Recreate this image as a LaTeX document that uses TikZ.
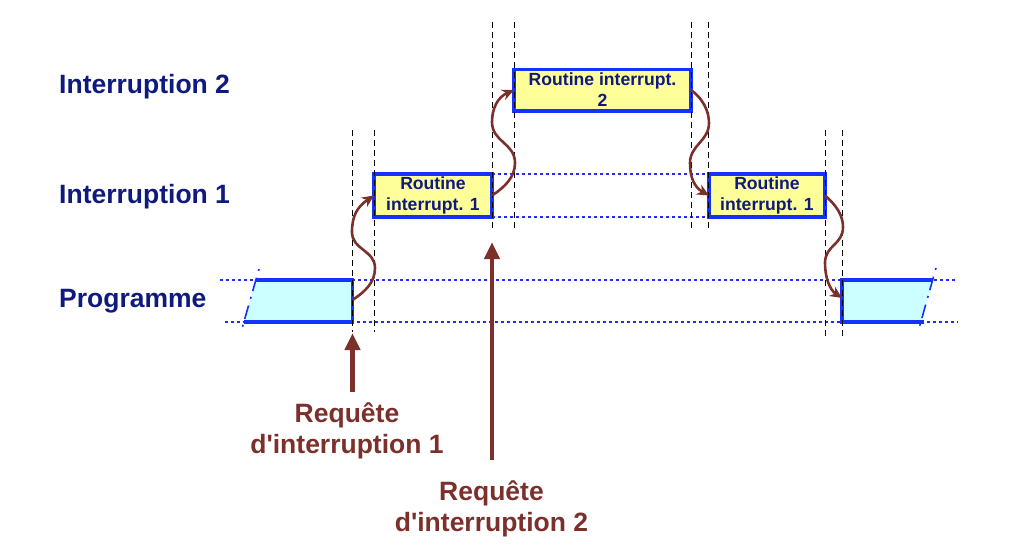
\documentclass[tikz,border=0pt]{standalone}
\usepackage{fontspec}
\setmainfont{Liberation Sans}
\usetikzlibrary{arrows.meta}
\definecolor{navytxt}{RGB}{14,26,125}
\definecolor{boxblue}{RGB}{20,50,255}
\definecolor{routfill}{RGB}{255,255,153}
\definecolor{progfill}{RGB}{204,255,255}
\definecolor{reqbrown}{RGB}{124,48,44}
\definecolor{laneblue}{RGB}{40,40,240}
\begin{document}
\begin{tikzpicture}[x=1pt,y=-1pt,
  lanelabel/.style={anchor=base west, inner sep=0, text=navytxt, font=\fontsize{26.5}{31}\selectfont\bfseries},
  routbox/.style={draw=boxblue, line width=3.5pt, fill=routfill, align=center, inner sep=0, outer sep=0, minimum height=42pt, text=navytxt, font=\fontsize{17.6}{21}\selectfont\bfseries},
  reqlabel/.style={align=center, inner sep=0, text=reqbrown, font=\fontsize{26.5}{31}\selectfont\bfseries},
  guide/.style={black, line width=0.9pt, dash pattern=on 6pt off 4pt},
  lanedot/.style={laneblue, line width=1.6pt, dash pattern=on 3pt off 3pt},
  cut/.style={boxblue, line width=1.6pt, dash pattern=on 2pt off 7pt on 14pt off 6pt},
  jump/.style={reqbrown, line width=2.6pt, -{Stealth[length=12pt,width=11pt]}},
  reqarrow/.style={reqbrown, line width=4.5pt, -{Triangle[length=17pt,width=15pt]}}]
	\useasboundingbox (0,0) rectangle (1034,550);
	% lane names
	\node[lanelabel] (lab2) at (59,93.5) {Interruption 2};
	\node[lanelabel] (lab1) at (59,203) {Interruption 1};
	\node[lanelabel] (lab0) at (59,307) {Programme};
	% program lane
	\draw[lanedot] (220,280) -- (955,280);
	\draw[lanedot] (225,322) -- (958,322);
	\fill[progfill] (256,280) -- (352.5,280) -- (352.5,322) -- (244,322) -- cycle;
	\draw[boxblue, line width=3.2pt] (256,280) -- (352.5,280) -- (352.5,322) -- (244,322);
	\draw[cut] (259,269) -- (241,332);
	\fill[progfill] (842,280) -- (932.6,280) -- (920.8,322) -- (842,322) -- cycle;
	\draw[boxblue, line width=3.2pt] (932.6,280) -- (842,280) -- (842,322) -- (924,322);
	\draw[cut] (936,268) -- (918,332);
	\coordinate (prog1) at (352.5,300);
	\coordinate (prog2) at (842,298);
	% routines
	\node[routbox, minimum width=118pt, minimum height=43pt] (rout1a) at (433,195.5) {Routine\\interrupt. 1};
	\node[routbox, minimum width=177pt, minimum height=41.5pt] (rout2) at (602.5,90) {Routine interrupt.\\2};
	\node[routbox, minimum width=116pt, minimum height=43pt] (rout1b) at (767,195.5) {Routine\\interrupt. 1};
	\draw[lanedot] (rout1a.north east) -- (rout1b.north west);
	\draw[lanedot] (rout1a.south east) -- (rout1b.south west);
	% switching instants
	\foreach \gx/\gtop/\gbot in {352.5/130/332, 374/130/332, 492/22/228, 514/22/228, 691/22/228, 708.7/22/228, 825/130/336, 842/130/336}
		\draw[guide] (\gx,\gtop) -- (\gx,\gbot);
	% context switches
	\draw[jump] (prog1) .. controls (366,291) and (375,282) .. (375,268)
		.. controls (375,250) and (352,250) .. (352,232)
		.. controls (352,216) and (357,207) .. (rout1a.west);
	\draw[jump] (rout1a.east) .. controls (505,187) and (515,177) .. (515,163)
		.. controls (515,143) and (492,142) .. (492,122)
		.. controls (492,108) and (498,97) .. (rout2.west);
	\draw[jump] (rout2.east) .. controls (702,98) and (709,110) .. (709,123)
		.. controls (709,141) and (690,145) .. (690,163)
		.. controls (690,177) and (694,187) .. (rout1b.west);
	\draw[jump] (rout1b.east) .. controls (836,205) and (843,215) .. (843,227)
		.. controls (843,245) and (825,245) .. (825,263)
		.. controls (825,278) and (830,290) .. (prog2);
	% requests
	\coordinate (q1) at (352.5,392);
	\coordinate (q1tip) at (352.5,333);
	\coordinate (q2) at (492,460);
	\coordinate (q2tip) at (492,242);
	\draw[reqarrow] (q1) -- (q1tip);
	\draw[reqarrow] (q2) -- (q2tip);
	\node[reqlabel] (req1) at (347,430.5) {Requête\\d\textquotesingle interruption 1};
	\node[reqlabel] (req2) at (491.5,508.5) {Requête\\d\textquotesingle interruption 2};
\end{tikzpicture}
\end{document}
